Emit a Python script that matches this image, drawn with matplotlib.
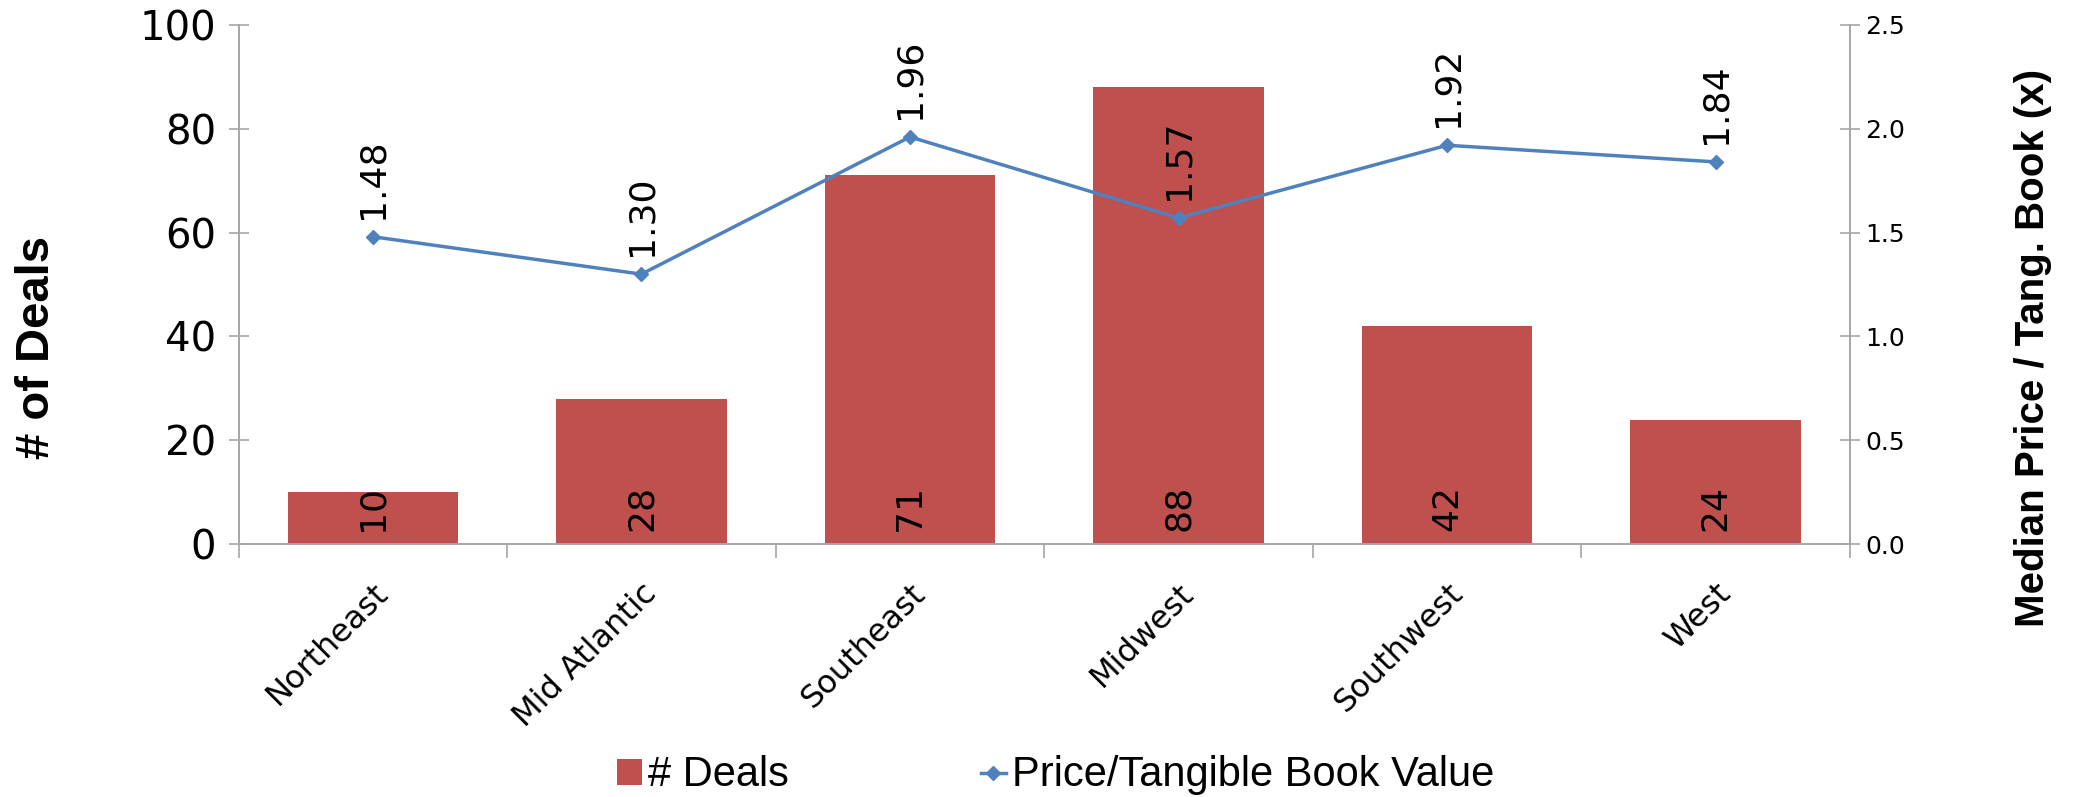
import matplotlib.pyplot as plt
import numpy as np

# Data
regions = ['Northeast', 'Mid Atlantic', 'Southeast', 'Midwest', 'Southwest', 'West']
deals = [10, 28, 71, 88, 42, 24]
price_tbv = [1.48, 1.30, 1.96, 1.57, 1.92, 1.84]

bar_color = '#C0504D'
line_color = '#4F81BD'
axis_gray = '#A6A6A6'
narrow = ['Liberation Sans Narrow', 'Liberation Sans', 'DejaVu Sans']

plt.rcParams['font.family'] = ['DejaVu Sans']

fig = plt.figure(figsize=(20.74, 7.97), dpi=100)
ax = fig.add_axes([0.115, 0.317, 0.777, 0.652])
ax2 = ax.twinx()

x = np.arange(len(regions))
ax.bar(x, deals, width=0.635, color=bar_color, label='# Deals', zorder=2)
for xi, v in zip(x, deals):
    ax.text(xi, 2.5, str(v), rotation=90, ha='center', va='bottom', fontsize=26, color='black', zorder=5)

ax2.plot(x, price_tbv, color=line_color, lw=2.5, marker='D', markersize=7,
         label='Price/Tangible Book Value', zorder=3)
for xi, v in zip(x, price_tbv):
    ax2.annotate('%.2f' % v, (xi, v), xytext=(0, 13), textcoords='offset points',
                 rotation=90, ha='center', va='bottom', fontsize=26)

ax.set_xlim(-0.5, len(regions) - 0.5)
ax.set_ylim(0, 100)
ax2.set_ylim(0, 2.5)
ax.set_yticks([0, 20, 40, 60, 80, 100])
ax2.set_yticks([0, 0.5, 1.0, 1.5, 2.0, 2.5])
ax2.set_yticklabels(['%.1f' % t for t in ax2.get_yticks()])

ax.set_xticks(x)
ax.set_xticklabels(regions, rotation=45, ha='right', rotation_mode='anchor', fontsize=23)
ax.tick_params(axis='x', which='major', length=0, pad=24)
ax.set_xticks(np.arange(-0.5, len(regions), 1), minor=True)
ax.tick_params(axis='x', which='minor', length=10, direction='out', color=axis_gray, width=1.2)

ax.tick_params(axis='y', labelsize=29, direction='inout', length=14, color=axis_gray, width=1.2, pad=9)
ax2.tick_params(axis='y', labelsize=18, direction='inout', length=14, color=axis_gray, width=1.2, pad=4)

for a in (ax, ax2):
    a.spines['top'].set_visible(False)
    for s in ('left', 'right', 'bottom'):
        a.spines[s].set_color(axis_gray)
        a.spines[s].set_linewidth(1.2)

ax.set_ylabel('# of Deals', fontsize=34, fontweight='bold', family=narrow, va='center')
ax.yaxis.set_label_coords(-0.125, 0.378)
ax2.set_ylabel('Median Price / Tang. Book (x)', fontsize=29, fontweight='bold',
               rotation=90, family=narrow, va='center')
ax2.yaxis.set_label_coords(1.1136, 0.378)

h1, l1 = ax.get_legend_handles_labels()
h2, l2 = ax2.get_legend_handles_labels()
fig.legend(h1 + h2, l1 + l2, loc='center', bbox_to_anchor=(0.509, 0.027), ncol=2,
           frameon=False, columnspacing=4.6, handlelength=0.6, handleheight=0.6,
           handletextpad=0.15, prop={'family': narrow, 'size': 30})

fig.savefig('out.png', dpi=100)
